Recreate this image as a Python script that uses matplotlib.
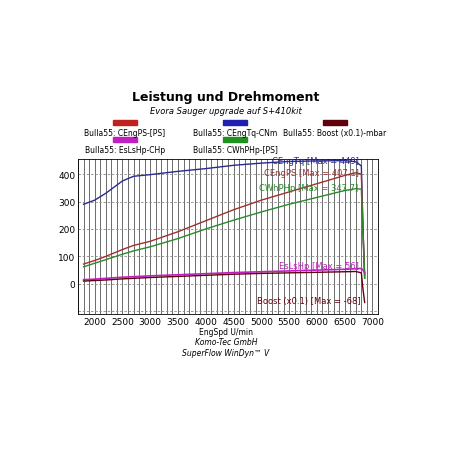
import matplotlib
matplotlib.use("Agg")
import matplotlib.pyplot as plt
import numpy as np

rpm = [1800, 2000, 2200, 2500, 2700, 3000, 3500, 4000, 4500, 5000, 5500, 6000, 6500, 6700, 6800, 6830, 6860]
torque = [290, 305, 330, 375, 392, 398, 410, 420, 432, 440, 446, 448, 449, 445, 430, 200, 30]
power = [72, 85, 100, 125, 140, 155, 190, 230, 270, 305, 335, 365, 395, 405, 400, 200, 20]
wheel = [62, 75, 88, 108, 120, 135, 165, 200, 232, 262, 290, 315, 340, 347, 345, 180, 20]
losses = [15, 17, 20, 24, 26, 29, 33, 37, 41, 44, 47, 50, 53, 55, 56, 50, 40]
boost = [10, 12, 14, 18, 20, 23, 27, 31, 35, 38, 40, 42, 44, 45, 40, -20, -68]

fig = plt.figure(figsize=(4.52, 4.52), dpi=100)
ax = fig.add_axes([78/452, 1-315/452, 300/452, 155/452])
ax.set_xlim(1700, 7100)
ax.set_ylim(-110, 455)
for xv in range(1700, 7101, 100):
    ax.axvline(xv, color="#555555", lw=0.6, zorder=0)
for yv in range(-100, 451, 100):
    ax.axhline(yv, color="#888888", lw=0.6, ls=(0, (3, 2)), zorder=0)
ax.plot(rpm, torque, color="#2a2a90", lw=1)
ax.plot(rpm, power, color="#a03030", lw=1)
ax.plot(rpm, wheel, color="#2a8a2a", lw=1)
ax.plot(rpm, losses, color="#c020c0", lw=1.2)
ax.plot(rpm, boost, color="#600010", lw=1)
ax.set_xticks(range(2000, 7001, 500))
ax.set_yticks([0, 100, 200, 300, 400])
ax.tick_params(labelsize=6.5, length=0, pad=2)
for s in ax.spines.values():
    s.set_linewidth(0.6)
fs = 6
ax.text(6750, 449, "CEngTq [Max = 449]", color="#2a2a90", fontsize=fs, ha="right", va="center")
ax.text(6750, 407, "CEngPS [Max = 407.1]", color="#a03030", fontsize=fs, ha="right", va="center")
ax.text(6750, 350, "CWhPHp [Max = 347.7]", color="#2a8a2a", fontsize=fs, ha="right", va="center")
ax.text(6750, 65, "EsLsHp [Max = 56]", color="#c020c0", fontsize=fs, ha="right", va="center")
ax.text(6780, -60, "Boost (x0.1) [Max = -68]", color="#600010", fontsize=fs, ha="right", va="center")

fig.text(0.5, 1-101/452, "Leistung und Drehmoment", ha="center", fontsize=9, fontweight="bold")
fig.text(0.5, 1-114/452, "Evora Sauger upgrade auf S+410kit", ha="center", fontsize=6, style="italic")
leg = [("Bulla55: CEngPS-[PS]", "#c02020", 125, 129),
       ("Bulla55: CEngTq-CNm", "#2020b0", 235, 129),
       ("Bulla55: Boost (x0.1)-mbar", "#600010", 335, 129),
       ("Bulla55: EsLsHp-CHp", "#c020c0", 125, 146),
       ("Bulla55: CWhPHp-[PS]", "#209020", 235, 146)]
for lab, c, xc, yt in leg:
    fig.patches.append(plt.Rectangle(((xc-12)/452, 1-(yt-3)/452), 24/452, 5/452, color=c, transform=fig.transFigure))
    fig.text(xc/452, 1-yt/452, lab, ha="center", va="top", fontsize=5.5)
fig.text(0.5, 1-333/452, "EngSpd U/min", ha="center", va="center", fontsize=5.5)
fig.text(0.5, 1-343/452, "Komo-Tec GmbH", ha="center", va="center", fontsize=5.5, style="italic")
fig.text(0.5, 1-353/452, "SuperFlow WinDyn\u2122 V", ha="center", va="center", fontsize=5.5, style="italic")
fig.savefig("out.png", dpi=100)
